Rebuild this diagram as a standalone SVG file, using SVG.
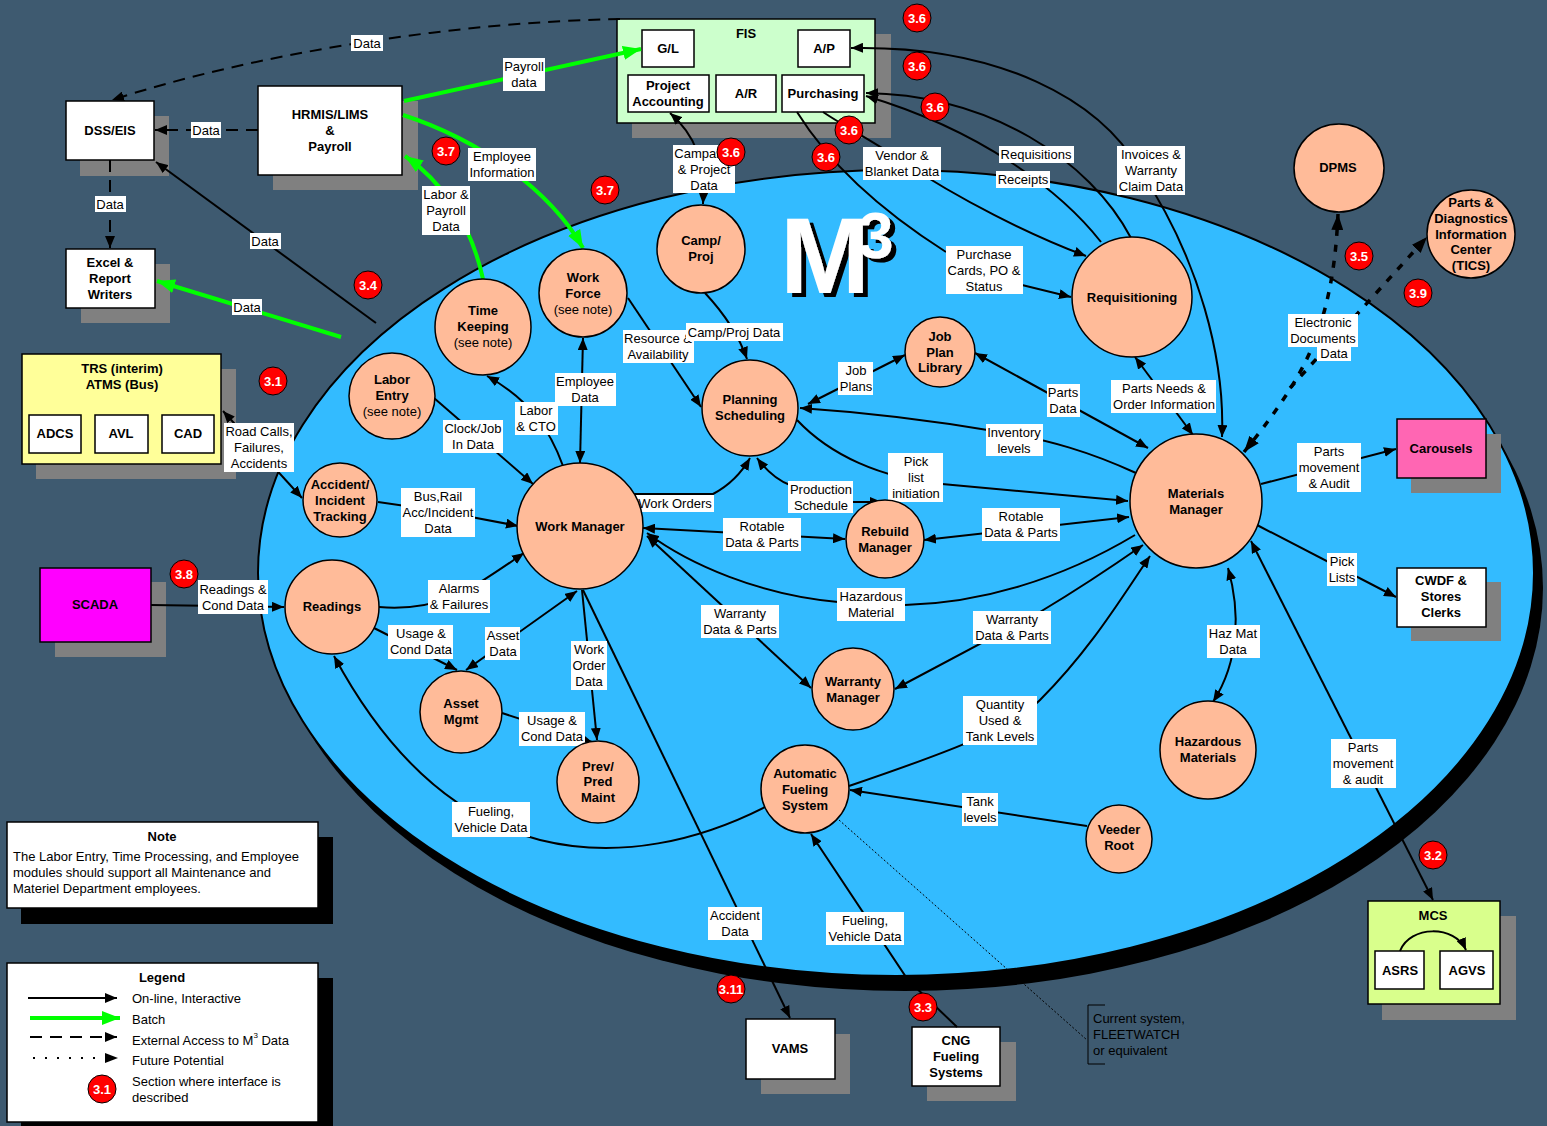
<svg xmlns="http://www.w3.org/2000/svg" width="1547" height="1126" viewBox="0 0 1547 1126">
<style>
.t{font-family:"Liberation Sans",Arial,sans-serif;font-size:13px;text-anchor:middle;dominant-baseline:central;fill:#000}
.b{font-weight:bold}
.n{font-weight:normal}
.c{fill:#ffbb99;stroke:#000;stroke-width:1.5}
.box{fill:#fff;stroke:#000;stroke-width:1.5}
.sh{fill:#808080}
.ln{fill:none;stroke:#000;stroke-width:2}
.g{fill:none;stroke:#00ff00;stroke-width:4}
.dash{stroke-dasharray:12 8}
.dot{stroke-width:3.5;stroke-dasharray:7 9}
.lb{fill:#fff}
.bd{fill:#ff0000;stroke:#000;stroke-width:1}
.bt{font-family:"Liberation Sans",Arial,sans-serif;font-size:13px;font-weight:bold;fill:#fff;text-anchor:middle;dominant-baseline:central}
.lt{font-family:"Liberation Sans",Arial,sans-serif;font-size:13px;fill:#000;dominant-baseline:central}
</style>
<defs>
<marker id="a" viewBox="0 0 12 10" refX="12" refY="5" markerWidth="12" markerHeight="10" markerUnits="userSpaceOnUse" orient="auto-start-reverse"><path d="M0,0L12,5L0,10z" fill="#000"/></marker>
<marker id="ga" viewBox="0 0 18 14" refX="18" refY="7" markerWidth="18" markerHeight="14" markerUnits="userSpaceOnUse" orient="auto-start-reverse"><path d="M0,0L18,7L0,14z" fill="#00ff00"/></marker>
<marker id="ba" viewBox="0 0 16 12" refX="16" refY="6" markerWidth="16" markerHeight="12" markerUnits="userSpaceOnUse" orient="auto-start-reverse"><path d="M0,0L16,6L0,12z" fill="#000"/></marker>
<filter id="ds" x="-10%" y="-10%" width="130%" height="130%"><feOffset in="SourceAlpha" dx="5" dy="4" result="o"/><feMerge><feMergeNode in="o"/><feMergeNode in="SourceGraphic"/></feMerge></filter>
</defs>
<rect width="1547" height="1126" fill="#3e5a70"/>

<g id="m3-ellipse">
<ellipse cx="905" cy="588" rx="638" ry="403" fill="#000"/>
<ellipse cx="896" cy="573" rx="638" ry="403" fill="#33bbff" stroke="#000" stroke-width="2"/>
<text x="780" y="293" font-family="Liberation Sans,Arial,sans-serif" font-weight="bold" font-size="108" fill="#fff" filter="url(#ds)">M<tspan font-size="64" dx="-12" dy="-35">3</tspan></text>
</g>

<g id="dss"><rect class="sh" x="80" y="116" width="89" height="60"/><rect class="box" x="66" y="101" width="88" height="59"/><text class="t b" x="110" y="130">DSS/EIS</text></g>
<g id="hrmis"><rect class="sh" x="273" y="101" width="145" height="89"/><rect class="box" x="258" y="86" width="144" height="89"/><text class="t b" x="330" y="114">HRMIS/LIMS</text><text class="t b" x="330" y="130">&amp;</text><text class="t b" x="330" y="146">Payroll</text></g>
<g id="excel"><rect class="sh" x="81" y="264" width="89" height="59"/><rect class="box" x="66" y="249" width="89" height="59"/><text class="t b" x="110" y="262">Excel &amp;</text><text class="t b" x="110" y="278">Report</text><text class="t b" x="110" y="294">Writers</text></g>
<g id="fis"><rect class="sh" x="632" y="34" width="259" height="104"/><rect x="617" y="19" width="258" height="104" fill="#ccffcc" stroke="#000" stroke-width="1.5"/><text class="t b" x="746" y="33">FIS</text>
<rect class="box" x="642" y="30" width="52" height="37"/><text class="t b" x="668" y="48">G/L</text>
<rect class="box" x="798" y="30" width="52" height="37"/><text class="t b" x="824" y="48">A/P</text>
<rect class="box" x="628" y="75" width="81" height="37"/><text class="t b" x="668" y="85">Project</text><text class="t b" x="668" y="101">Accounting</text>
<rect class="box" x="716" y="75" width="60" height="37"/><text class="t b" x="746" y="93">A/R</text>
<rect class="box" x="782" y="75" width="82" height="37"/><text class="t b" x="823" y="93">Purchasing</text></g>
<g id="trs"><rect class="sh" x="36" y="369" width="200" height="110"/><rect x="22" y="354" width="199" height="110" fill="#ffff99" stroke="#000" stroke-width="1.5"/><text class="t b" x="122" y="368">TRS (interim)</text><text class="t b" x="122" y="384">ATMS (Bus)</text>
<rect class="box" x="29" y="415" width="52" height="38"/><text class="t b" x="55" y="433">ADCS</text>
<rect class="box" x="95" y="415" width="53" height="38"/><text class="t b" x="121" y="433">AVL</text>
<rect class="box" x="162" y="415" width="52" height="38"/><text class="t b" x="188" y="433">CAD</text></g>
<g id="scada"><rect class="sh" x="55" y="582" width="111" height="75"/><rect x="40" y="568" width="111" height="74" fill="#ff00ff" stroke="#000" stroke-width="1.5"/><text class="t b" x="95" y="604">SCADA</text></g>
<g id="carousels"><rect class="sh" x="1411" y="434" width="90" height="59"/><rect x="1397" y="419" width="89" height="59" fill="#ff66b3" stroke="#000" stroke-width="1.5"/><text class="t b" x="1441" y="448">Carousels</text></g>
<g id="cwdf"><rect class="sh" x="1411" y="582" width="90" height="59"/><rect class="box" x="1397" y="568" width="89" height="59"/><text class="t b" x="1441" y="580">CWDF &amp;</text><text class="t b" x="1441" y="596">Stores</text><text class="t b" x="1441" y="612">Clerks</text></g>
<g id="mcs"><rect class="sh" x="1382" y="916" width="134" height="104"/><rect x="1368" y="901" width="132" height="103" fill="#d9ff8c" stroke="#000" stroke-width="1.5"/><text class="t b" x="1433" y="915">MCS</text>
<rect class="box" x="1375" y="951" width="49" height="38"/><text class="t b" x="1400" y="970">ASRS</text>
<rect class="box" x="1440" y="951" width="53" height="38"/><text class="t b" x="1467" y="970">AGVS</text>
<path class="ln" d="M1400,951 C1410,925 1455,925 1466,950" marker-end="url(#a)"/></g>
<g id="vams"><rect class="sh" x="761" y="1034" width="89" height="60"/><rect class="box" x="746" y="1019" width="89" height="60"/><text class="t b" x="790" y="1048">VAMS</text></g>
<g id="cng"><rect class="sh" x="927" y="1042" width="89" height="59"/><rect class="box" x="912" y="1027" width="88" height="59"/><text class="t b" x="956" y="1040">CNG</text><text class="t b" x="956" y="1056">Fueling</text><text class="t b" x="956" y="1072">Systems</text></g>

<g id="connectors">
<path class="ln dash" d="M620,19 C450,22 250,55 112,100" marker-end="url(#a)"/>
<path class="ln dash" d="M258,130 L155,130" marker-end="url(#a)"/>
<path class="ln dash" d="M110,160 L110,248" marker-end="url(#a)"/>
<path class="ln" d="M376,323 L156,162" marker-end="url(#a)"/>
<path class="g" d="M341,337 L157,281" marker-end="url(#ga)"/>
<path class="g" d="M404,101 L641,49" marker-end="url(#ga)"/>
<path class="g" d="M403,115 C480,140 550,190 583,248" marker-end="url(#ga)"/>
<path class="g" d="M483,279 C470,220 440,180 405,156" marker-end="url(#ga)"/>
<path class="ln" d="M703,204 C705,160 695,135 670,113" marker-start="url(#a)" marker-end="url(#a)"/>
<path class="ln" d="M823,112 C850,130 880,145 900,160 C960,200 1030,235 1086,256" marker-end="url(#a)"/>
<path class="ln" d="M797,112 C830,165 880,210 946,252 M1022,285 L1071,297" marker-end="url(#a)"/>
<path class="ln" d="M1131,238 C1090,160 990,95 866,93" marker-end="url(#a)"/>
<path class="ln" d="M1101,242 C1060,190 980,130 866,96" marker-end="url(#a)"/>
<path class="ln" d="M1222,437 C1225,360 1200,260 1140,170 C1100,100 1000,45 851,48" marker-start="url(#a)" marker-end="url(#a)"/>
<path class="ln" d="M705,293 Q735,325 747,359" marker-end="url(#a)"/>
<path class="ln" d="M628,298 L701,407" marker-end="url(#a)"/>
<path class="ln" d="M580,463 L583,338" marker-start="url(#a)" marker-end="url(#a)"/>
<path class="ln" d="M563,466 C550,430 530,400 487,376" marker-end="url(#a)"/>
<path class="ln" d="M434,398 L533,484" marker-end="url(#a)"/>
<path class="ln" d="M378,502 Q450,512 518,526" marker-end="url(#a)"/>
<path class="ln" d="M302,498 L223,411" marker-start="url(#a)" marker-end="url(#a)"/>
<path class="ln" d="M151,605 L284,607" marker-end="url(#a)"/>
<path class="ln" d="M379,607 C440,612 470,590 524,553" marker-end="url(#a)"/>
<path class="ln" d="M374,628 L457,670" marker-end="url(#a)"/>
<path class="ln" d="M466,670 L577,591" marker-start="url(#a)" marker-end="url(#a)"/>
<path class="ln" d="M582,590 L597,740" marker-end="url(#a)"/>
<path class="ln" d="M583,590 L790,1018" marker-end="url(#a)"/>
<path class="ln" d="M502,713 L592,742" marker-end="url(#a)"/>
<path class="ln" d="M765,807 C700,840 620,860 540,840 C460,820 390,760 334,656" marker-end="url(#a)"/>
<path class="ln" d="M1087,826 L850,790" marker-end="url(#a)"/>
<path class="ln" d="M849,786 C940,755 1010,730 1040,700 C1090,650 1120,600 1150,556" marker-end="url(#a)"/>
<path class="ln" d="M957,1027 L908,980 L811,834" marker-end="url(#a)"/>
<path d="M830,812 L1087,1040" fill="none" stroke="#000" stroke-width="1" stroke-dasharray="2 2"/>
<path class="ln" d="M1135,535 C1060,580 980,603 905,605 L838,602 C760,595 690,565 647,533" marker-end="url(#a)"/>
<path class="ln" d="M647,536 L811,688" marker-start="url(#a)" marker-end="url(#a)"/>
<path class="ln" d="M1143,545 C1100,575 1060,600 1040,612 L895,689" marker-start="url(#a)" marker-end="url(#a)"/>
<path class="ln" d="M1129,517 L924,540" marker-start="url(#a)" marker-end="url(#a)"/>
<path class="ln" d="M643,528 L845,539" marker-start="url(#a)" marker-end="url(#a)"/>
<path class="ln" d="M632,494 L713,494 C730,485 742,472 750,458" marker-end="url(#a)"/>
<path class="ln" d="M757,458 Q772,478 790,485 L853,502 L882,502" marker-start="url(#a)" marker-end="url(#a)"/>
<path class="ln" d="M797,420 C830,455 880,478 942,484 L1128,501" marker-end="url(#a)"/>
<path class="ln" d="M1136,473 C1090,452 1050,440 1000,432 C930,420 860,412 800,408" marker-end="url(#a)"/>
<path class="ln" d="M808,404 L905,355" marker-start="url(#a)" marker-end="url(#a)"/>
<path class="ln" d="M975,353 L1148,448" marker-start="url(#a)" marker-end="url(#a)"/>
<path class="ln" d="M1135,357 L1193,435" marker-start="url(#a)" marker-end="url(#a)"/>
<path class="ln dot" d="M1244,452 C1270,420 1300,380 1315,340 C1330,300 1336,260 1338,214" marker-start="url(#ba)" marker-end="url(#ba)"/>
<path class="ln dot" d="M1290,388 L1427,237" marker-end="url(#ba)"/>
<path class="ln" d="M1261,484 L1396,449" marker-end="url(#a)"/>
<path class="ln" d="M1257,525 L1396,597" marker-end="url(#a)"/>
<path class="ln" d="M1251,541 L1433,900" marker-start="url(#a)" marker-end="url(#a)"/>
<path class="ln" d="M1228,568 C1240,610 1240,660 1213,702" marker-start="url(#a)" marker-end="url(#a)"/>
</g>

<g id="labels">
<rect class="lb" x="351" y="35" width="32" height="16"/><text class="t" x="367" y="43">Data</text>
<rect class="lb" x="191" y="122" width="30" height="16"/><text class="t" x="206" y="130">Data</text>
<rect class="lb" x="95" y="196" width="31" height="16"/><text class="t" x="110" y="204">Data</text>
<rect class="lb" x="250" y="233" width="31" height="16"/><text class="t" x="265" y="241">Data</text>
<rect class="lb" x="232" y="299" width="30" height="16"/><text class="t" x="247" y="307">Data</text>
<rect class="lb" x="503" y="58" width="42" height="33"/><text class="t" x="524" y="66">Payroll</text><text class="t" x="524" y="82">data</text>
<rect class="lb" x="468" y="148" width="68" height="33"/><text class="t" x="502" y="156">Employee</text><text class="t" x="502" y="172">Information</text>
<rect class="lb" x="422" y="186" width="48" height="49"/><text class="t" x="446" y="194">Labor &amp;</text><text class="t" x="446" y="210">Payroll</text><text class="t" x="446" y="226">Data</text>
<rect class="lb" x="673" y="145" width="62" height="48"/><text class="t" x="704" y="153">Campaign</text><text class="t" x="704" y="169">&amp; Project</text><text class="t" x="704" y="185">Data</text>
<rect class="lb" x="863" y="147" width="78" height="33"/><text class="t" x="902" y="155">Vendor &amp;</text><text class="t" x="902" y="171">Blanket Data</text>
<rect class="lb" x="999" y="146" width="75" height="17"/><text class="t" x="1036" y="154">Requisitions</text>
<rect class="lb" x="996" y="171" width="54" height="17"/><text class="t" x="1023" y="179">Receipts</text>
<rect class="lb" x="1117" y="146" width="68" height="49"/><text class="t" x="1151" y="154">Invoices  &amp;</text><text class="t" x="1151" y="170">Warranty</text><text class="t" x="1151" y="186">Claim Data</text>
<rect class="lb" x="946" y="246" width="77" height="48"/><text class="t" x="984" y="254">Purchase</text><text class="t" x="984" y="270">Cards, PO &amp;</text><text class="t" x="984" y="286">Status</text>
<rect class="lb" x="623" y="330" width="71" height="33"/><text class="t" x="658" y="338">Resource &amp;</text><text class="t" x="658" y="354">Availability</text>
<rect class="lb" x="686" y="323" width="97" height="18"/><text class="t" x="734" y="332">Camp/Proj Data</text>
<rect class="lb" x="555" y="373" width="61" height="33"/><text class="t" x="585" y="381">Employee</text><text class="t" x="585" y="397">Data</text>
<rect class="lb" x="515" y="402" width="43" height="33"/><text class="t" x="536" y="410">Labor</text><text class="t" x="536" y="426">&amp; CTO</text>
<rect class="lb" x="443" y="420" width="60" height="33"/><text class="t" x="473" y="428">Clock/Job</text><text class="t" x="473" y="444">In Data</text>
<rect class="lb" x="224" y="423" width="70" height="49"/><text class="t" x="259" y="431">Road Calls,</text><text class="t" x="259" y="447">Failures,</text><text class="t" x="259" y="463">Accidents</text>
<rect class="lb" x="401" y="488" width="74" height="49"/><text class="t" x="438" y="496">Bus,Rail</text><text class="t" x="438" y="512">Acc/Incident</text><text class="t" x="438" y="528">Data</text>
<rect class="lb" x="198" y="580" width="70" height="34"/><text class="t" x="233" y="589">Readings &amp;</text><text class="t" x="233" y="605">Cond Data</text>
<rect class="lb" x="428" y="580" width="62" height="33"/><text class="t" x="459" y="588">Alarms</text><text class="t" x="459" y="604">&amp; Failures</text>
<rect class="lb" x="388" y="625" width="65" height="34"/><text class="t" x="421" y="633">Usage &amp;</text><text class="t" x="421" y="649">Cond Data</text>
<rect class="lb" x="485" y="627" width="35" height="33"/><text class="t" x="503" y="635">Asset</text><text class="t" x="503" y="651">Data</text>
<rect class="lb" x="571" y="641" width="36" height="49"/><text class="t" x="589" y="649">Work</text><text class="t" x="589" y="665">Order</text><text class="t" x="589" y="681">Data</text>
<rect class="lb" x="519" y="712" width="66" height="34"/><text class="t" x="552" y="720">Usage &amp;</text><text class="t" x="552" y="736">Cond Data</text>
<rect class="lb" x="452" y="802" width="78" height="35"/><text class="t" x="491" y="811">Fueling,</text><text class="t" x="491" y="827">Vehicle Data</text>
<rect class="lb" x="708" y="907" width="54" height="33"/><text class="t" x="735" y="915">Accident</text><text class="t" x="735" y="931">Data</text>
<rect class="lb" x="826" y="912" width="78" height="33"/><text class="t" x="865" y="920">Fueling,</text><text class="t" x="865" y="936">Vehicle Data</text>
<rect class="lb" x="636" y="495" width="78" height="17"/><text class="t" x="675" y="503">Work Orders</text>
<rect class="lb" x="723" y="518" width="78" height="33"/><text class="t" x="762" y="526">Rotable</text><text class="t" x="762" y="542">Data &amp; Parts</text>
<rect class="lb" x="788" y="481" width="65" height="32"/><text class="t" x="821" y="489">Production</text><text class="t" x="821" y="505">Schedule</text>
<rect class="lb" x="888" y="453" width="55" height="49"/><text class="t" x="916" y="461">Pick</text><text class="t" x="916" y="477">list</text><text class="t" x="916" y="493">initiation</text>
<rect class="lb" x="838" y="362" width="35" height="33"/><text class="t" x="856" y="370">Job</text><text class="t" x="856" y="386">Plans</text>
<rect class="lb" x="986" y="424" width="57" height="32"/><text class="t" x="1014" y="432">Inventory</text><text class="t" x="1014" y="448">levels</text>
<rect class="lb" x="1047" y="384" width="33" height="33"/><text class="t" x="1063" y="392">Parts</text><text class="t" x="1063" y="408">Data</text>
<rect class="lb" x="1111" y="380" width="105" height="33"/><text class="t" x="1164" y="388">Parts Needs &amp;</text><text class="t" x="1164" y="404">Order Information</text>
<rect class="lb" x="1288" y="314" width="70" height="33"/><rect class="lb" x="1317" y="346" width="34" height="15"/><text class="t" x="1323" y="322">Electronic</text><text class="t" x="1323" y="338">Documents</text><text class="t" x="1334" y="353">Data</text>
<rect class="lb" x="1297" y="443" width="64" height="49"/><text class="t" x="1329" y="451">Parts</text><text class="t" x="1329" y="467">movement</text><text class="t" x="1329" y="483">&amp; Audit</text>
<rect class="lb" x="1327" y="553" width="30" height="33"/><text class="t" x="1342" y="561">Pick</text><text class="t" x="1342" y="577">Lists</text>
<rect class="lb" x="982" y="508" width="78" height="33"/><text class="t" x="1021" y="516">Rotable</text><text class="t" x="1021" y="532">Data &amp; Parts</text>
<rect class="lb" x="837" y="588" width="68" height="33"/><text class="t" x="871" y="596">Hazardous</text><text class="t" x="871" y="612">Material</text>
<rect class="lb" x="701" y="605" width="78" height="33"/><text class="t" x="740" y="613">Warranty</text><text class="t" x="740" y="629">Data &amp; Parts</text>
<rect class="lb" x="973" y="611" width="78" height="33"/><text class="t" x="1012" y="619">Warranty</text><text class="t" x="1012" y="635">Data &amp; Parts</text>
<rect class="lb" x="1207" y="625" width="53" height="33"/><text class="t" x="1233" y="633">Haz Mat</text><text class="t" x="1233" y="649">Data</text>
<rect class="lb" x="963" y="696" width="74" height="49"/><text class="t" x="1000" y="704">Quantity</text><text class="t" x="1000" y="720">Used &amp;</text><text class="t" x="1000" y="736">Tank Levels</text>
<rect class="lb" x="962" y="793" width="36" height="33"/><text class="t" x="980" y="801">Tank</text><text class="t" x="980" y="817">levels</text>
<rect class="lb" x="1331" y="739" width="65" height="49"/><text class="t" x="1363" y="747">Parts</text><text class="t" x="1363" y="763">movement</text><text class="t" x="1363" y="779">&amp; audit</text>
</g>

<g id="tk"><circle class="c" cx="483" cy="327" r="48"/><text class="t b" x="483" y="310">Time</text><text class="t b" x="483" y="326">Keeping</text><text class="t n" x="483" y="342">(see note)</text></g>
<g id="wf"><circle class="c" cx="583" cy="293" r="44"/><text class="t b" x="583" y="277">Work</text><text class="t b" x="583" y="293">Force</text><text class="t n" x="583" y="309">(see note)</text></g>
<g id="cp"><circle class="c" cx="701" cy="249" r="44"/><text class="t b" x="701" y="240">Camp/</text><text class="t b" x="701" y="256">Proj</text></g>
<g id="le"><circle class="c" cx="392" cy="396" r="43"/><text class="t b" x="392" y="379">Labor</text><text class="t b" x="392" y="395">Entry</text><text class="t n" x="392" y="411">(see note)</text></g>
<g id="ai"><circle class="c" cx="340" cy="500" r="37"/><text class="t b" x="340" y="484">Accident/</text><text class="t b" x="340" y="500">Incident</text><text class="t b" x="340" y="516">Tracking</text></g>
<g id="rd"><circle class="c" cx="332" cy="607" r="47"/><text class="t b" x="332" y="606">Readings</text></g>
<g id="wm"><circle class="c" cx="580" cy="526" r="63"/><text class="t b" x="580" y="526">Work Manager</text></g>
<g id="ps"><circle class="c" cx="750" cy="408" r="48"/><text class="t b" x="750" y="399">Planning</text><text class="t b" x="750" y="415">Scheduling</text></g>
<g id="jp"><circle class="c" cx="940" cy="352" r="35"/><text class="t b" x="940" y="336">Job</text><text class="t b" x="940" y="352">Plan</text><text class="t b" x="940" y="367">Library</text></g>
<g id="rb"><circle class="c" cx="885" cy="539" r="39"/><text class="t b" x="885" y="531">Rebuild</text><text class="t b" x="885" y="547">Manager</text></g>
<g id="rq"><ellipse class="c" cx="1132" cy="297" rx="60" ry="60"/><text class="t b" x="1132" y="297">Requisitioning</text></g>
<g id="mm"><ellipse class="c" cx="1196" cy="501" rx="66" ry="67"/><text class="t b" x="1196" y="493">Materials</text><text class="t b" x="1196" y="509">Manager</text></g>
<g id="dpms"><ellipse class="c" cx="1339" cy="168" rx="45" ry="44"/><text class="t b" x="1338" y="167">DPMS</text></g>
<g id="tics"><circle class="c" cx="1471" cy="234" r="44"/><text class="t b" x="1471" y="202">Parts &amp;</text><text class="t b" x="1471" y="218">Diagnostics</text><text class="t b" x="1471" y="234">Information</text><text class="t b" x="1471" y="249">Center</text><text class="t b" x="1471" y="265">(TICS)</text></g>
<g id="wmgr"><circle class="c" cx="853" cy="689" r="41"/><text class="t b" x="853" y="681">Warranty</text><text class="t b" x="853" y="697">Manager</text></g>
<g id="am"><circle class="c" cx="461" cy="712" r="41"/><text class="t b" x="461" y="703">Asset</text><text class="t b" x="461" y="719">Mgmt</text></g>
<g id="pp"><circle class="c" cx="598" cy="782" r="41"/><text class="t b" x="598" y="766">Prev/</text><text class="t b" x="598" y="781">Pred</text><text class="t b" x="598" y="797">Maint</text></g>
<g id="afs"><circle class="c" cx="805" cy="789" r="44"/><text class="t b" x="805" y="773">Automatic</text><text class="t b" x="805" y="789">Fueling</text><text class="t b" x="805" y="805">System</text></g>
<g id="hz"><ellipse class="c" cx="1208" cy="750" rx="48" ry="49"/><text class="t b" x="1208" y="741">Hazardous</text><text class="t b" x="1208" y="757">Materials</text></g>
<g id="vr"><ellipse class="c" cx="1119" cy="839" rx="33" ry="34"/><text class="t b" x="1119" y="829">Veeder</text><text class="t b" x="1119" y="845">Root</text></g>

<g id="fleetwatch">
<path d="M1105,1005 L1088,1005 L1088,1064 L1105,1064" fill="none" stroke="#000" stroke-width="1"/>
<text class="lt" x="1093" y="1018">Current system,</text>
<text class="lt" x="1093" y="1034">FLEETWATCH</text>
<text class="lt" x="1093" y="1050">or equivalent</text>
</g>

<g id="note"><rect x="21" y="837" width="312" height="87" fill="#000"/><rect class="box" x="7" y="822" width="311" height="86"/>
<text class="t b" x="162" y="836">Note</text>
<text class="lt" x="13" y="856">The Labor Entry, Time Processing, and Employee</text>
<text class="lt" x="13" y="872">modules should support all Maintenance and</text>
<text class="lt" x="13" y="888">Materiel Department employees.</text></g>

<g id="legend"><rect x="21" y="978" width="312" height="150" fill="#000"/><rect class="box" x="7" y="963" width="311" height="159"/>
<text class="t b" x="162" y="977">Legend</text>
<path class="ln" d="M28,998 L117,998" marker-end="url(#a)"/>
<path class="g" d="M30,1018 L120,1018" marker-end="url(#ga)"/>
<path class="ln dash" d="M30,1037 L117,1037" marker-end="url(#a)"/>
<path d="M33,1058 L107,1058" fill="none" stroke="#000" stroke-width="2" stroke-dasharray="2 10"/>
<path d="M105,1053 L118,1058 L105,1063z" fill="#000"/>
<circle class="bd" cx="102" cy="1089" r="14"/><text class="bt" x="102" y="1089">3.1</text>
<text class="lt" x="132" y="998">On-line, Interactive</text>
<text class="lt" x="132" y="1019">Batch</text>
<text class="lt" x="132" y="1040">External Access to M<tspan font-size="8" dy="-5">3</tspan><tspan dy="5"> Data</tspan></text>
<text class="lt" x="132" y="1060">Future Potential</text>
<text class="lt" x="132" y="1081">Section where interface is</text>
<text class="lt" x="132" y="1097">described</text></g>

<g id="badges">
<circle class="bd" cx="917" cy="18" r="14"/><text class="bt" x="917" y="18">3.6</text>
<circle class="bd" cx="917" cy="66" r="14"/><text class="bt" x="917" y="66">3.6</text>
<circle class="bd" cx="935" cy="107" r="14"/><text class="bt" x="935" y="107">3.6</text>
<circle class="bd" cx="849" cy="130" r="14"/><text class="bt" x="849" y="130">3.6</text>
<circle class="bd" cx="826" cy="157" r="14"/><text class="bt" x="826" y="157">3.6</text>
<circle class="bd" cx="731" cy="152" r="14"/><text class="bt" x="731" y="152">3.6</text>
<circle class="bd" cx="446" cy="151" r="14"/><text class="bt" x="446" y="151">3.7</text>
<circle class="bd" cx="605" cy="190" r="14"/><text class="bt" x="605" y="190">3.7</text>
<circle class="bd" cx="368" cy="285" r="14"/><text class="bt" x="368" y="285">3.4</text>
<circle class="bd" cx="273" cy="381" r="14"/><text class="bt" x="273" y="381">3.1</text>
<circle class="bd" cx="184" cy="574" r="14"/><text class="bt" x="184" y="574">3.8</text>
<circle class="bd" cx="1359" cy="256" r="14"/><text class="bt" x="1359" y="256">3.5</text>
<circle class="bd" cx="1418" cy="293" r="14"/><text class="bt" x="1418" y="293">3.9</text>
<circle class="bd" cx="1433" cy="855" r="14"/><text class="bt" x="1433" y="855">3.2</text>
<circle class="bd" cx="731" cy="989" r="14"/><text class="bt" x="731" y="989">3.11</text>
<circle class="bd" cx="923" cy="1007" r="14"/><text class="bt" x="923" y="1007">3.3</text>
</g>
</svg>
